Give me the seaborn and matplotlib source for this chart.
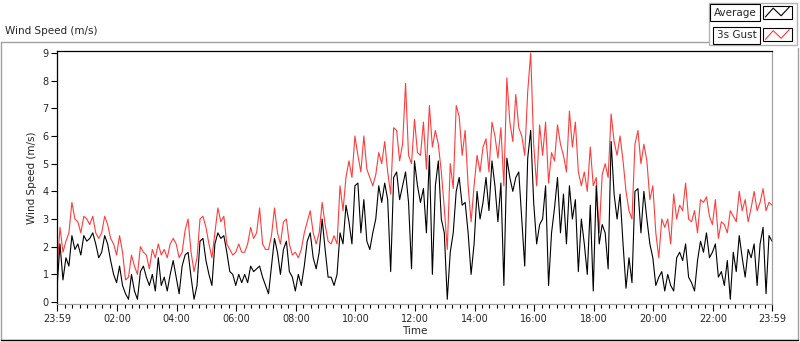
import matplotlib
matplotlib.use("Agg")
import matplotlib.pyplot as plt
from matplotlib.legend_handler import HandlerBase
from matplotlib.lines import Line2D
from matplotlib.patches import Rectangle
import seaborn as sns
import pandas as pd

# one reading every 6 minutes, 23:59 -> 23:59 next day
start_time = "2015-06-01 23:59"
step = "6min"

gust = [
    1.1, 2.7, 1.8, 2.2, 2.5, 3.6, 3.0, 2.9, 2.5, 3.1,
    3.0, 2.8, 3.1, 2.5, 2.3, 2.5, 3.1, 2.8, 2.3, 2.1,
    1.7, 2.4, 1.8, 0.8, 0.9, 1.7, 1.3, 1.0, 2.0, 1.8,
    1.7, 1.2, 1.9, 1.6, 2.1, 1.7, 1.9, 1.6, 2.1, 2.3,
    2.1, 1.6, 1.8, 2.6, 3.0, 1.8, 1.1, 1.6, 3.0, 3.1,
    2.7, 2.1, 1.6, 2.5, 3.4, 2.9, 3.1, 2.1, 1.9, 1.7,
    1.8, 2.1, 1.8, 1.8, 2.1, 2.7, 2.3, 2.5, 3.4, 2.1,
    1.9, 1.9, 2.4, 3.4, 2.5, 2.1, 2.9, 3.0, 2.1, 1.7,
    1.8, 1.6, 1.9, 2.5, 2.9, 3.3, 2.5, 2.1, 2.5, 3.6,
    2.8, 2.2, 2.1, 2.4, 2.1, 4.2, 3.3, 4.5, 5.1, 4.5,
    6.0, 5.3, 4.7, 6.0, 4.8, 4.5, 4.2, 4.6, 5.4, 5.0,
    5.8, 4.7, 3.9, 6.3, 6.2, 5.1, 5.7, 7.9, 5.3, 5.0,
    6.6, 5.4, 5.3, 6.5, 4.8, 7.1, 5.6, 6.2, 5.7, 4.7,
    3.4, 1.9, 5.0, 4.1, 7.1, 6.7, 5.3, 6.2, 4.2, 2.9,
    4.2, 5.3, 4.7, 5.6, 5.9, 4.7, 6.5, 6.0, 5.2, 6.3,
    4.2, 8.1, 6.5, 5.8, 7.5, 6.3, 6.0, 5.3, 7.6, 9.0,
    5.7, 4.2, 6.4, 5.3, 6.5, 4.3, 5.4, 5.1, 6.4, 5.7,
    5.3, 4.7, 6.9, 5.6, 6.5, 4.7, 4.2, 4.7, 4.0, 5.6,
    4.2, 4.5, 2.5, 4.6, 5.0, 4.5, 6.8, 5.8, 5.3, 6.0,
    5.1, 4.0, 3.3, 3.0, 5.7, 6.2, 5.0, 5.7, 5.1, 3.7,
    4.2, 2.5, 1.6, 3.0, 2.7, 3.0, 2.1, 3.9, 3.0, 3.5,
    3.3, 4.3, 3.0, 2.9, 3.3, 2.5, 3.7, 3.6, 3.8, 3.1,
    2.8, 3.7, 2.3, 2.9, 2.8, 2.5, 3.3, 3.1, 2.9, 4.0,
    3.3, 3.7, 2.9, 3.4, 4.0, 3.3, 3.6, 4.1, 3.3, 3.6,
    3.5,
]

average = [
    0.5, 2.1, 0.8, 1.6, 1.3, 2.4, 1.9, 2.1, 1.7, 2.4,
    2.2, 2.3, 2.5, 2.1, 1.6, 1.8, 2.4, 2.1, 1.5, 1.0,
    0.7, 1.3, 0.6, 0.3, 0.1, 1.0, 0.4, 0.1, 1.1, 1.3,
    0.9, 0.6, 1.0, 0.4, 1.6, 0.6, 0.9, 0.4, 1.0, 1.5,
    0.9, 0.3, 1.3, 1.7, 1.8, 0.9, 0.1, 0.6, 2.2, 2.3,
    1.5, 1.0, 0.6, 2.1, 2.5, 2.3, 2.4, 1.8, 1.1, 1.0,
    0.6, 1.0, 0.7, 1.0, 0.7, 1.3, 1.1, 1.2, 1.3, 0.9,
    0.6, 0.3, 1.3, 2.3, 1.8, 1.0, 1.9, 2.2, 1.1, 0.9,
    0.4, 1.0, 0.6, 1.3, 2.2, 2.5, 1.6, 1.2, 1.8, 3.0,
    1.9, 0.9, 0.9, 0.6, 1.0, 2.5, 2.1, 3.5, 2.9, 2.1,
    4.2, 4.3, 2.5, 3.7, 2.2, 1.9, 2.5, 3.0, 4.2, 3.6,
    4.3, 3.7, 1.1, 4.5, 4.7, 3.7, 4.2, 4.7, 3.6, 1.2,
    5.1, 4.2, 3.6, 4.1, 2.5, 5.3, 1.0, 4.2, 5.1, 3.0,
    2.5, 0.1, 1.8, 2.5, 4.0, 4.5, 3.5, 3.6, 2.5, 1.0,
    2.1, 4.0, 3.0, 3.6, 4.5, 3.3, 5.1, 4.2, 2.9, 4.3,
    0.6, 5.2, 4.5, 4.0, 4.5, 4.7, 3.0, 1.3, 5.2, 6.2,
    3.6, 2.1, 2.8, 3.0, 4.2, 0.6, 2.5, 3.4, 4.5, 2.5,
    3.9, 2.1, 4.2, 3.0, 3.7, 1.1, 3.0, 2.1, 1.0, 3.5,
    0.4, 4.2, 2.1, 2.8, 2.5, 1.2, 5.8, 3.9, 3.0, 3.9,
    2.1, 0.5, 1.6, 0.7, 4.0, 4.1, 2.5, 4.0, 3.0, 2.1,
    1.6, 0.6, 0.9, 1.1, 0.4, 1.0, 0.6, 0.4, 1.6, 1.8,
    1.5, 2.1, 0.9, 0.7, 0.4, 1.5, 2.2, 1.8, 2.5, 1.6,
    1.8, 2.1, 0.9, 1.1, 0.6, 1.5, 0.1, 1.8, 1.1, 2.4,
    1.6, 0.9, 1.9, 1.6, 2.1, 0.6, 2.1, 2.7, 0.3, 2.4,
    2.2,
]

tick_hours = [2, 4, 6, 8, 10, 12, 14, 16, 18, 20, 22]
tick_labels = ["23:59", "02:00", "04:00", "06:00", "08:00", "10:00", "12:00",
               "14:00", "16:00", "18:00", "20:00", "22:00", "23:59"]
y_ticks = [0, 1, 2, 3, 4, 5, 6, 7, 8, 9]

RED = "#ff3c3c"
W, H = 800, 342

times = pd.date_range(start_time, periods=len(gust), freq=step)
df = pd.DataFrame({"Time": times, "3s Gust": gust, "Average": average})


class ZigzagHandler(HandlerBase):
    # legend sample: little boxed zig-zag like the LabVIEW plot legend
    def create_artists(self, legend, orig_handle, xdescent, ydescent,
                       width, height, fontsize, trans):
        x0, y0 = -xdescent, -ydescent
        box = Rectangle((x0, y0 - 0.4 * height), width, 1.8 * height,
                        fc="white", ec="black", lw=0.8, transform=trans)
        xs = [x0 + width * f for f in (0.08, 0.35, 0.62, 0.9)]
        ys = [y0 + height * f for f in (-0.15, 1.05, 0.0, 1.2)]
        line = Line2D(xs, ys, color=orig_handle.get_color(), lw=0.8,
                      transform=trans)
        return [box, line]


sns.set_style("white")
plt.rcParams["font.family"] = ["DejaVu Sans"]

fig = plt.figure(figsize=(W / 100, H / 100), dpi=100)

# outer panel frame
fig.add_artist(Line2D([1 / W, 1 / W], [2 / H, 1 - 42 / H], color="#a0a0a0", lw=1, transform=fig.transFigure))
fig.add_artist(Line2D([1 / W, 708 / W], [1 - 42 / H, 1 - 42 / H], color="#a0a0a0", lw=1, transform=fig.transFigure))
fig.add_artist(Line2D([798 / W, 798 / W], [2 / H, 1 - 48 / H], color="#a0a0a0", lw=1, transform=fig.transFigure))
fig.add_artist(Line2D([1 / W, 798 / W], [2 / H, 2 / H], color="black", lw=1, transform=fig.transFigure))

ax = fig.add_axes([57 / W, 1 - 304 / H, 715 / W, 253 / H])
sns.lineplot(data=df, x="Time", y="3s Gust", color=RED, lw=0.8, ax=ax)
sns.lineplot(data=df, x="Time", y="Average", color="black", lw=0.8, ax=ax)

ax.set_xlim(times[0], times[-1])
ax.set_ylim(-0.07, 9.07)
ax.set_yticks(y_ticks)

day = times[0].normalize() + pd.Timedelta(days=1)
major = [times[0]] + [day + pd.Timedelta(hours=h) for h in tick_hours] + [times[-1]]
ax.set_xticks(major)
ax.set_xticklabels(tick_labels)
ax.set_xticks(pd.date_range(day + pd.Timedelta(minutes=15), times[-1], freq="15min"), minor=True)

ax.tick_params(axis="both", which="both", direction="out", color="black",
               width=0.8, labelsize=7, pad=2)
ax.tick_params(axis="x", which="major", length=5, bottom=True)
ax.tick_params(axis="x", which="minor", length=3, bottom=True)
ax.tick_params(axis="y", length=4, left=True)

for side in ["left", "top"]:
    ax.spines[side].set_color("black")
    ax.spines[side].set_linewidth(0.9)
for side in ["right", "bottom"]:
    ax.spines[side].set_color("#a0a0a0")
    ax.spines[side].set_linewidth(0.9)

ax.set_xlabel("Time", fontsize=7.5, labelpad=2)
ax.set_ylabel("Wind Speed (m/s)", fontsize=7.5, labelpad=4)
ax.grid(False)

fig.text(5 / W, 1 - 31 / H, "Wind Speed (m/s)", fontsize=7.5, va="center", ha="left")

leg = fig.legend(handles=[Line2D([], [], color="black"), Line2D([], [], color=RED)],
                 labels=["Average", "3s Gust"], loc="upper right",
                 bbox_to_anchor=(1.0, 1.0), markerfirst=False, fontsize=7.5,
                 handler_map={Line2D: ZigzagHandler()}, handlelength=2.8,
                 labelspacing=1.2, handletextpad=0.6, borderpad=0.45,
                 borderaxespad=0.3,
                 frameon=True, fancybox=False, edgecolor="#a0a0a0")
leg.get_frame().set_linewidth(1)
for t in leg.get_texts():
    t.set_bbox(dict(boxstyle="square,pad=0.35", fc="white", ec="black", lw=0.8))

fig.savefig("out.png", dpi=100)
